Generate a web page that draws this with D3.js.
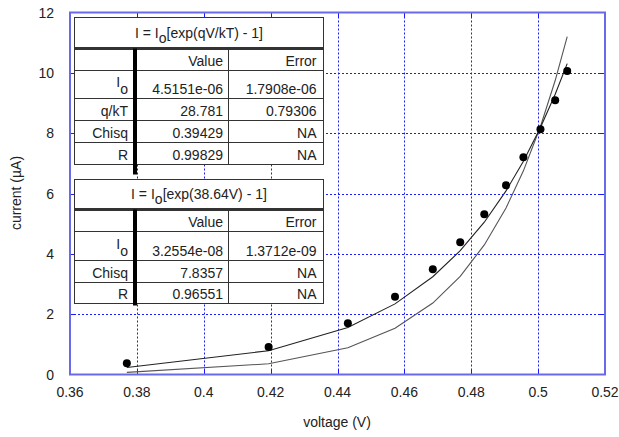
<!DOCTYPE html>
<html><head><meta charset="utf-8">
<script src="https://cdn.jsdelivr.net/npm/d3@7"></script>
<style>
html,body{margin:0;padding:0;background:#fff;}
svg{display:block;font-family:"Liberation Sans",Arial,sans-serif;}
</style></head>
<body><svg id="c" width="619" height="437"></svg>
<script>
// ---- data ----
const voltage = [0.3770, 0.4194, 0.4431, 0.4572, 0.4685, 0.4767, 0.4839, 0.4904, 0.4956, 0.5007, 0.5051, 0.5087];
const current = [0.37, 0.91, 1.70, 2.58, 3.49, 4.38, 5.31, 6.27, 7.20, 8.13, 9.09, 10.06];
const fitGeneral = [0.233, 0.789, 1.560, 2.341, 3.241, 4.103, 5.048, 6.087, 7.070, 8.186, 9.292, 10.306];
const fitFixed = [0.069, 0.355, 0.888, 1.531, 2.369, 3.252, 4.296, 5.522, 6.751, 8.221, 9.745, 11.199];
const xTicks = [0.36, 0.38, 0.40, 0.42, 0.44, 0.46, 0.48, 0.50, 0.52];
const xTickLabels = ["0.36", "0.38", "0.4", "0.42", "0.44", "0.46", "0.48", "0.5", "0.52"];
const yTicks = [0, 2, 4, 6, 8, 10, 12];
const table1Title = ["I = I", "o", "[exp(qV/kT) - 1]"];
const table1Rows = [["", "Value", "Error"], ["I|o", "4.5151e-06", "1.7908e-06"], ["q/kT", "28.781", "0.79306"], ["Chisq", "0.39429", "NA"], ["R", "0.99829", "NA"]];
const table2Title = ["I = I", "o", "[exp(38.64V) - 1]"];
const table2Rows = [["", "Value", "Error"], ["I|o", "3.2554e-08", "1.3712e-09"], ["Chisq", "7.8357", "NA"], ["R", "0.96551", "NA"]];

// ---- layout ----
const svg = d3.select("#c");
const L = 70, R = 605, T = 12.5, B = 374.5;
const x = d3.scaleLinear().domain([0.36, 0.52]).range([L, R]);
const y = d3.scaleLinear().domain([0, 12]).range([B, T]);
const gridCol = "#1a1aff", frameCol = "#6a6ae8", textCol = "#222";

// grid
const g = svg.append("g");
g.selectAll("line.vx").data(xTicks.slice(1, -1)).enter().append("line")
  .attr("x1", d => Math.round(x(d)) + 0.5).attr("x2", d => Math.round(x(d)) + 0.5)
  .attr("y1", T).attr("y2", B).attr("stroke", gridCol).attr("stroke-width", 1).attr("stroke-dasharray", "2,2");
g.selectAll("line.hy").data(yTicks.slice(1, -1)).enter().append("line")
  .attr("y1", d => Math.round(y(d)) + 0.5).attr("y2", d => Math.round(y(d)) + 0.5)
  .attr("x1", L).attr("x2", R).attr("stroke", gridCol).attr("stroke-width", 1).attr("stroke-dasharray", "2,2");
// inward ticks all sides
const tl = 5;
xTicks.slice(1, -1).forEach(d => {
  const px = Math.round(x(d)) + 0.5;
  g.append("line").attr("x1", px).attr("x2", px).attr("y1", B).attr("y2", B - tl).attr("stroke", gridCol);
  g.append("line").attr("x1", px).attr("x2", px).attr("y1", T).attr("y2", T + tl).attr("stroke", gridCol);
});
yTicks.slice(1, -1).forEach(d => {
  const py = Math.round(y(d)) + 0.5;
  g.append("line").attr("y1", py).attr("y2", py).attr("x1", L).attr("x2", L + tl).attr("stroke", gridCol);
  g.append("line").attr("y1", py).attr("y2", py).attr("x1", R).attr("x2", R - tl).attr("stroke", gridCol);
});

// tick labels
svg.append("g").selectAll("text").data(xTicks).enter().append("text")
  .attr("x", d => x(d)).attr("y", 397).attr("text-anchor", "middle")
  .attr("font-size", 14).attr("fill", textCol).text((d, i) => xTickLabels[i]);
svg.append("g").selectAll("text").data(yTicks).enter().append("text")
  .attr("x", 54).attr("y", d => y(d) + 5).attr("text-anchor", "end")
  .attr("font-size", 14).attr("fill", textCol).text(d => d);
svg.append("text").attr("x", 337).attr("y", 427).attr("text-anchor", "middle")
  .attr("font-size", 14).attr("fill", textCol).text("voltage (V)");
svg.append("text").attr("transform", "translate(21,193) rotate(-90)").attr("text-anchor", "middle")
  .attr("font-size", 14).attr("fill", textCol).text("current (µA)");

// curves
const line = d3.line().x(d => x(d[0])).y(d => y(d[1]));
svg.append("path").datum(voltage.map((v, i) => [v, fitFixed[i]])).attr("d", line)
  .attr("fill", "none").attr("stroke", "#555").attr("stroke-width", 1.1);
svg.append("path").datum(voltage.map((v, i) => [v, fitGeneral[i]])).attr("d", line)
  .attr("fill", "none").attr("stroke", "#222").attr("stroke-width", 1.1);
// points
svg.append("g").selectAll("circle").data(voltage).enter().append("circle")
  .attr("cx", d => x(d)).attr("cy", (d, i) => y(current[i])).attr("r", 4).attr("fill", "#000");

// tables
function drawTable(top, rowHeights, titleParts, rows, extend) {
  const tL = 74.5, tR = 323.5, c1 = 135, c2 = 228;
  const tg = svg.append("g");
  const ys = [top];
  rowHeights.forEach(h => ys.push(ys[ys.length - 1] + h));
  const bottom = ys[ys.length - 1];
  tg.append("rect").attr("x", tL).attr("y", top).attr("width", tR - tL).attr("height", bottom - top)
    .attr("fill", "#fff").attr("stroke", "#333").attr("stroke-width", 1);
  ys.slice(2, -1).forEach(yy => tg.append("line").attr("x1", tL).attr("x2", tR).attr("y1", yy).attr("y2", yy)
    .attr("stroke", "#333").attr("stroke-width", 1));
  tg.append("line").attr("x1", tL).attr("x2", tR).attr("y1", ys[1]).attr("y2", ys[1]).attr("stroke", "#333").attr("stroke-width", 3);
  tg.append("line").attr("x1", c2 + 0.5).attr("x2", c2 + 0.5).attr("y1", ys[1]).attr("y2", bottom).attr("stroke", "#333");
  tg.append("line").attr("x1", c1).attr("x2", c1).attr("y1", ys[1]).attr("y2", bottom + extend).attr("stroke", "#000").attr("stroke-width", 4);
  const tt = tg.append("text").attr("x", (tL + tR) / 2).attr("y", ys[1] - 11).attr("text-anchor", "middle")
    .attr("font-size", 14).attr("fill", textCol);
  tt.append("tspan").text(titleParts[0]);
  tt.append("tspan").attr("dy", 5).text(titleParts[1]);
  tt.append("tspan").attr("dy", -5).text(titleParts[2]);
  rows.forEach((r, i) => {
    const base = ys[i + 2] - 5;
    const lab = tg.append("text").attr("x", c1 - 7).attr("y", base).attr("text-anchor", "end")
      .attr("font-size", 14).attr("fill", textCol);
    if (r[0].includes("|")) {
      const p = r[0].split("|");
      lab.append("tspan").attr("dy", -7).text(p[0]);
      lab.append("tspan").attr("dy", 7).text(p[1]);
    } else lab.text(r[0]);
    tg.append("text").attr("x", c2 - 5).attr("y", base).attr("text-anchor", "end")
      .attr("font-size", 14).attr("fill", textCol).text(r[1]);
    tg.append("text").attr("x", tR - 7).attr("y", base).attr("text-anchor", "end")
      .attr("font-size", 14).attr("fill", textCol).text(r[2]);
  });
}
drawTable(17.5, [31, 22, 28, 22, 22, 22], table1Title, table1Rows, 10);
drawTable(179.5, [30, 22, 29, 22, 21], table2Title, table2Rows, 2);

// frame
svg.append("rect").attr("x", L).attr("y", T).attr("width", R - L).attr("height", B - T)
  .attr("fill", "none").attr("stroke", frameCol).attr("stroke-width", 2);
</script>
</body></html>
